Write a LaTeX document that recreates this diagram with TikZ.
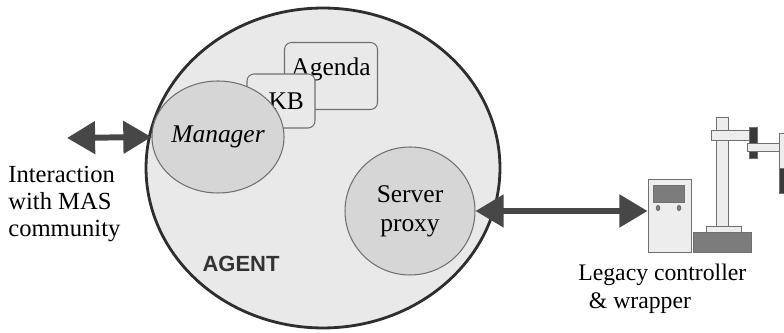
\documentclass[tikz,border=0pt]{standalone}
\usepackage{fontspec}
\setmainfont{Liberation Serif}
\setsansfont{Liberation Sans}
\usetikzlibrary{shapes.geometric, arrows.meta, positioning}
\definecolor{agentfill}{HTML}{E9E9E9}
\definecolor{agentline}{HTML}{2E2E2E}
\definecolor{partfill}{HTML}{D6D6D6}
\definecolor{partline}{HTML}{707070}
\definecolor{arrowgrey}{HTML}{474747}
\definecolor{labelgrey}{HTML}{333333}
\definecolor{metallight}{HTML}{EDEDED}
\definecolor{metaldark}{HTML}{7C7C7C}
\definecolor{tooldark}{HTML}{3A3A3A}
\tikzset{
  agentbody/.style={ellipse, draw=agentline, fill=agentfill, line width=1.6pt,
                    minimum width=7.08cm, minimum height=6.4cm, inner sep=0pt},
  rolecirc/.style={ellipse, draw=partline, fill=partfill, line width=0.6pt,
                   inner sep=0pt, align=center, font=\fontsize{14.5}{16.5}\selectfont},
  storebox/.style={rectangle, draw=partline, fill=agentfill, line width=0.6pt,
                   rounded corners=4pt, inner sep=0pt, font=\fontsize{14.5}{16}\selectfont},
  plaintext/.style={align=left, inner sep=0pt, font=\fontsize{14}{15.3}\selectfont},
  agentlabel/.style={font=\sffamily\bfseries\fontsize{12.5}{14}\selectfont, text=labelgrey},
  biglink/.style={{Triangle[length=16pt,width=18pt]}-{Triangle[length=16pt,width=18pt]},
                  line width=3.4pt, draw=arrowgrey, fill=arrowgrey},
  metal/.style={draw=partline, fill=metallight, line width=0.5pt},
  metaldk/.style={draw=partline, fill=metaldark, line width=0.5pt},
}

\begin{document}
\begin{tikzpicture}[x=0.02cm, y=-0.02cm]
  \clip (0,0) rectangle (784,333);

  % the agent and its parts
  \node[agentbody] (agent) at (323,168) {};
  \node[storebox, minimum width=1.86cm, minimum height=1.34cm,
        label={[anchor=north, inner sep=0pt, yshift=-9pt,
                font=\fontsize{14.5}{16}\selectfont]north:Agenda}] (agenda) at (331,76) {};
  \node[storebox, minimum width=1.36cm, minimum height=1.08cm] (kb) at (281,101) {\hspace*{6pt}KB};
  \node[rolecirc, minimum width=2.48cm, minimum height=2.24cm] (manager) at (218,137) {\itshape Manager};
  \node[rolecirc, minimum width=2.6cm, minimum height=2.56cm] (proxy) at (410,211) {Server\\proxy};
  \node[agentlabel] (agentname) at (241,264) {AGENT};

  % outside world
  \coordinate (mas) at (67,138);
  \node[plaintext, anchor=west] (maslbl) at (8,204) {Interaction\\with MAS\\community};

  % legacy controller cabinet and robot arm
  \node[metal, rectangle, minimum width=0.86cm, minimum height=1.46cm, inner sep=0pt] (cabinet) at (669.5,215.5) {};
  \filldraw[metaldk] (653,185) rectangle (684,202);
  \filldraw[metaldk] (658,208) ellipse [x radius=1.8, y radius=2.6];
  \filldraw[metaldk] (679,208) ellipse [x radius=1.8, y radius=2.6];
  \filldraw[metal] (716,117) rectangle (728,226);
  \filldraw[metal] (706,226) rectangle (741,232);
  \filldraw[metaldk] (693,232) rectangle (751,252);
  \filldraw[metal] (711,130) rectangle (753,140);
  \filldraw[draw=partline, fill=tooldark, line width=0.5pt] (749,127) rectangle (757,158);
  \filldraw[metal] (747,143) rectangle (790,151);
  \filldraw[metal] (779,133) rectangle (790,170);
  \filldraw[draw=partline, fill=tooldark, line width=0.5pt] (779,168) rectangle (790,193);
  \node[plaintext, font=\fontsize{13.5}{16}\selectfont, anchor=west] (ctrllbl) at (578,289)
       {Legacy controller\\\hspace*{6pt}\& wrapper};

  \draw[biglink] (mas) -- (manager.west);
  \draw[biglink] (proxy.east) -- (proxy.east -| cabinet.west);
\end{tikzpicture}
\end{document}
